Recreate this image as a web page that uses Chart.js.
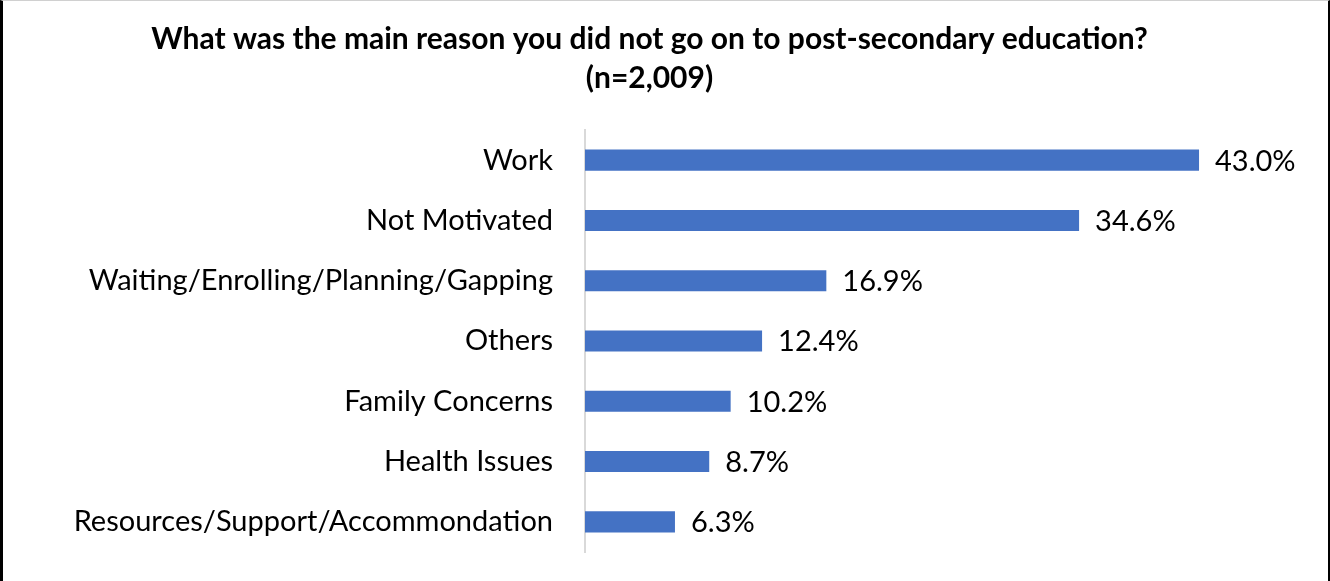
<!DOCTYPE html>
<html>
<head>
<meta charset="utf-8">
<script src="https://cdn.jsdelivr.net/npm/chart.js@4/dist/chart.umd.min.js"></script>
<style>
  html, body { margin: 0; padding: 0; background: #fff; }
  #wrap { position: relative; width: 1330px; height: 581px; }
  #frame {
    position: absolute; left: 0; top: 0; right: 0; bottom: 0;
    border-left: 3px solid #000; border-right: 2px solid #000; border-top: 1px solid #d0d0d0;
    pointer-events: none;
  }
</style>
</head>
<body>
<div id="wrap">
  <canvas id="reasonChart" width="1330" height="581"></canvas>
  <div id="frame"></div>
</div>
<script>
// Survey answers, top to bottom
const reasons = [
  'Work',
  'Not Motivated',
  'Waiting/Enrolling/Planning/Gapping',
  'Others',
  'Family Concerns',
  'Health Issues',
  'Resources/Support/Accommondation'
];
const shares = [43.0, 34.6, 16.9, 12.4, 10.2, 8.7, 6.3];
const titleLines = [
  'What was the main reason you did not go on to post-secondary education?',
  '(n=2,009)'
];

const FONT = 'Lato';
const AXIS_RIGHT = 585;

// Writes the percentage just past the end of each bar
const valueLabels = {
  id: 'valueLabels',
  afterDatasetsDraw(chart) {
    const ctx = chart.ctx;
    const meta = chart.getDatasetMeta(0);
    ctx.save();
    ctx.font = `29px "${FONT}"`;
    ctx.fillStyle = '#000';
    ctx.textAlign = 'left';
    ctx.textBaseline = 'middle';
    meta.data.forEach((bar, i) => {
      ctx.fillText(shares[i].toFixed(1) + '%', bar.x + 16, bar.y + 1);
    });
    ctx.restore();
  }
};

const ctx = document.getElementById('reasonChart').getContext('2d');
new Chart(ctx, {
  type: 'bar',
  data: {
    labels: reasons,
    datasets: [{
      data: shares,
      backgroundColor: '#4472C4',
      borderWidth: 0,
      categoryPercentage: 1,
      barPercentage: 0.35
    }]
  },
  options: {
    indexAxis: 'y',
    responsive: false,
    animation: false,
    layout: { padding: { top: 0, right: 31, bottom: 29, left: 0 } },
    plugins: {
      legend: { display: false },
      tooltip: { enabled: false },
      title: {
        display: true,
        text: titleLines,
        color: '#000',
        font: { family: FONT, size: 30, weight: 'bold', lineHeight: 1.3 },
        padding: { top: 20, bottom: 32 }
      }
    },
    scales: {
      x: {
        display: false,
        min: 0,
        max: 50
      },
      y: {
        grid: { display: false, drawTicks: false },
        border: { display: true, color: '#d9d9d9', width: 2 },
        ticks: {
          color: '#000',
          padding: 32,
          font: { family: FONT, size: 29 }
        },
        afterFit: scale => {
          // fixed axis width; no extra room for the first/last label
          scale.width = AXIS_RIGHT;
          scale.paddingTop = 0;
          scale.paddingBottom = 0;
        }
      }
    }
  },
  plugins: [valueLabels]
});
</script>
</body>
</html>
